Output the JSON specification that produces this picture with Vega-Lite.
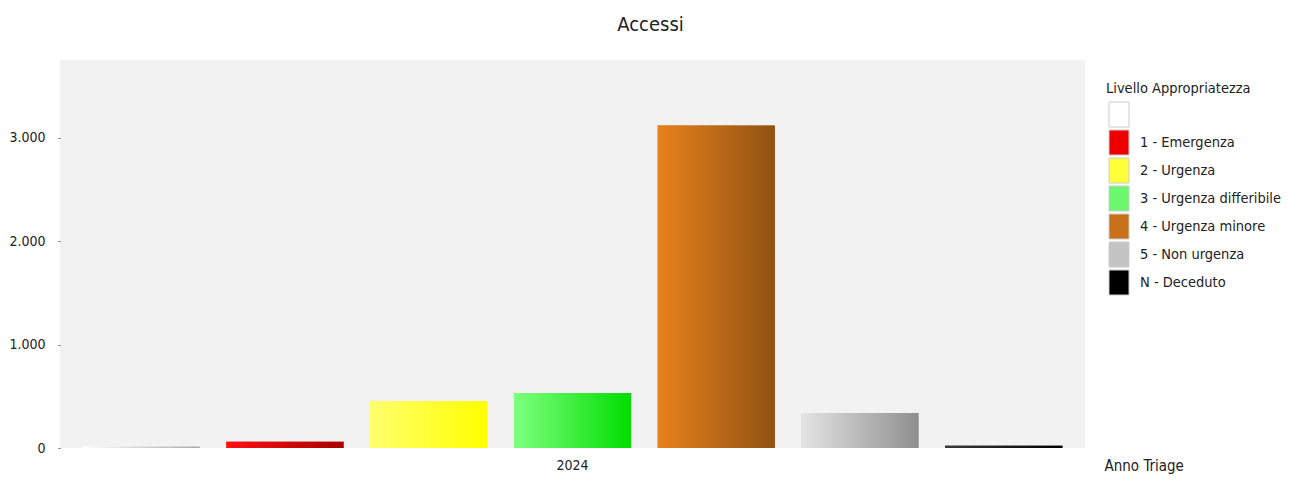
{
  "$schema": "https://vega.github.io/schema/vega-lite/v6.json",
  "width": 1025,
  "height": 388,
  "autosize": {"type": "none"},
  "padding": {"left": 60, "top": 60, "right": 213, "bottom": 35},
  "background": "white",
  "config": {
    "font": "DejaVu Sans Condensed",
    "view": {"fill": "#f2f2f2", "stroke": null}
  },
  "title": {
    "text": "Accessi",
    "anchor": "middle",
    "dx": 78,
    "offset": 25,
    "fontSize": 20,
    "fontWeight": "normal",
    "color": "#222222",
    "font": "DejaVu Sans Condensed"
  },
  "data": {
    "values": [
      {"anno": "2024", "livello": " ", "accessi": 15},
      {"anno": "2024", "livello": "1 - Emergenza", "accessi": 60},
      {"anno": "2024", "livello": "2 - Urgenza", "accessi": 455},
      {"anno": "2024", "livello": "3 - Urgenza differibile", "accessi": 532},
      {"anno": "2024", "livello": "4 - Urgenza minore", "accessi": 3117},
      {"anno": "2024", "livello": "5 - Non urgenza", "accessi": 339},
      {"anno": "2024", "livello": "N - Deceduto", "accessi": 22}
    ]
  },
  "encoding": {
    "x": {
      "field": "anno",
      "type": "nominal",
      "scale": {"paddingInner": 0, "paddingOuter": 0.01},
      "axis": {
        "title": "Anno Triage",
        "labelAngle": 0,
        "labelFontSize": 14,
        "labelColor": "#222222",
        "labelPadding": 10,
        "ticks": false,
        "domain": false,
        "titleFontSize": 15,
        "titleFontWeight": "normal",
        "titleColor": "#222222",
        "titleAnchor": "start",
        "titleAlign": "left",
        "titleX": 1044,
        "titleY": 10,
        "titleBaseline": "top"
      }
    },
    "xOffset": {
      "field": "livello",
      "type": "nominal",
      "scale": {"paddingInner": 0.185, "paddingOuter": 0.0875,
        "domain": [" ", "1 - Emergenza", "2 - Urgenza", "3 - Urgenza differibile", "4 - Urgenza minore", "5 - Non urgenza", "N - Deceduto"]}
    },
    "y": {
      "field": "accessi",
      "type": "quantitative",
      "scale": {"domain": [0, 3750], "nice": false},
      "axis": {
        "title": null,
        "values": [0, 1000, 2000, 3000],
        "format": ",d",
        "labelExpr": "replace(datum.label, ',', '.')",
        "grid": false,
        "domain": false,
        "tickSize": 2,
        "tickColor": "#666666",
        "labelPadding": 13,
        "labelFontSize": 14,
        "labelColor": "#222222"
      }
    }
  },
  "layer": [
    {
      "mark": {"type": "bar"},
      "encoding": {
        "color": {
          "field": "livello",
          "type": "nominal",
          "scale": {
            "domain": [" ", "1 - Emergenza", "2 - Urgenza", "3 - Urgenza differibile", "4 - Urgenza minore", "5 - Non urgenza", "N - Deceduto"],
            "range": ["#ffffff", "#ee0000", "#ffff3a", "#6cf86c", "#c8701a", "#c4c4c4", "#000000"]
          },
          "legend": {
            "title": "Livello Appropriatezza",
            "orient": "none",
            "legendX": 1046,
            "legendY": 22,
            "titleFontSize": 14.5,
            "titleFontWeight": "normal",
            "titleColor": "#222222",
            "titlePadding": 5,
            "labelFontSize": 14.5,
            "labelColor": "#222222",
            "labelOffset": 8,
            "symbolType": "M-0.8,-1L0.8,-1L0.8,1L-0.8,1Z",
            "symbolSize": 625,
            "symbolStrokeColor": "#cccccc",
            "symbolStrokeWidth": 1,
            "rowPadding": -3,
            "symbolOpacity": 1
          }
        }
      }
    },
    {
      "mark": {"type": "bar"},
      "encoding": {
        "fill": {
          "condition": [
            {"test": "datum.livello === '1 - Emergenza'", "value": {"gradient": "linear", "x1": 0, "y1": 0, "x2": 1, "y2": 0, "stops": [{"offset": 0, "color": "#ff1010"}, {"offset": 1, "color": "#a80000"}]}},
            {"test": "datum.livello === '2 - Urgenza'", "value": {"gradient": "linear", "x1": 0, "y1": 0, "x2": 1, "y2": 0, "stops": [{"offset": 0, "color": "#ffff6e"}, {"offset": 1, "color": "#ffff00"}]}},
            {"test": "datum.livello === '3 - Urgenza differibile'", "value": {"gradient": "linear", "x1": 0, "y1": 0, "x2": 1, "y2": 0, "stops": [{"offset": 0, "color": "#80ff80"}, {"offset": 1, "color": "#00dd00"}]}},
            {"test": "datum.livello === '4 - Urgenza minore'", "value": {"gradient": "linear", "x1": 0, "y1": 0, "x2": 1, "y2": 0, "stops": [{"offset": 0, "color": "#e8811b"}, {"offset": 1, "color": "#8f5214"}]}},
            {"test": "datum.livello === '5 - Non urgenza'", "value": {"gradient": "linear", "x1": 0, "y1": 0, "x2": 1, "y2": 0, "stops": [{"offset": 0, "color": "#e4e4e4"}, {"offset": 1, "color": "#8e8e8e"}]}},
            {"test": "datum.livello === 'N - Deceduto'", "value": {"gradient": "linear", "x1": 0, "y1": 0, "x2": 1, "y2": 0, "stops": [{"offset": 0, "color": "#3a3a3a"}, {"offset": 1, "color": "#000000"}]}}
          ],
          "value": {"gradient": "linear", "x1": 0, "y1": 0, "x2": 1, "y2": 0, "stops": [{"offset": 0, "color": "#ffffff"}, {"offset": 1, "color": "#a8a8a8"}]}
        }
      }
    }
  ]
}
